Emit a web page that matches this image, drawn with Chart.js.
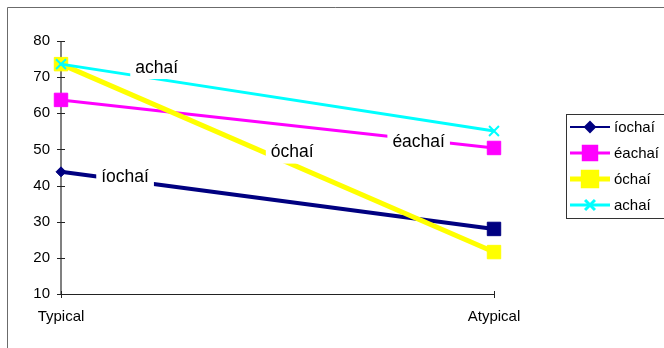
<!DOCTYPE html>
<html>
<head>
<meta charset="utf-8">
<script src="https://cdn.jsdelivr.net/npm/chart.js@4/dist/chart.umd.min.js"></script>
<style>
  html, body { margin: 0; padding: 0; background: #fff; }
  #wrap { position: relative; width: 664px; height: 348px; }
</style>
</head>
<body>
<div id="wrap"><canvas id="c" width="664" height="348"></canvas></div>
<script>
// Categories and series values
const categories = ['Typical', 'Atypical'];
const seriesNames = ['íochaí', 'éachaí', 'óchaí', 'achaí'];
const iochai = [43.8, 28.0];
const eachai = [63.7, 50.4];
const ochai = [73.6, 21.6];
const achai = [73.6, 55.1];
const yTicks = [10, 20, 30, 40, 50, 60, 70, 80];

// In-plot series captions: position along the x range (0..1) and y value
const captionSpots = [
  { text: 'achaí', xf: 0.221, y: 72.8 },
  { text: 'éachaí', xf: 0.826, y: 52.2 },
  { text: 'óchaí', xf: 0.534, y: 49.4 },
  { text: 'íochaí', xf: 0.148, y: 42.5 }
];

const FONT = "'Liberation Sans', Arial, sans-serif";

const datasets = [
  {
    label: seriesNames[0], data: iochai, order: 3,
    borderColor: '#000080', backgroundColor: '#000080', borderWidth: 4,
    pointStyle: ['rectRot', 'rect'], pointRadius: [5, 9.5],
    pointBorderWidth: 1, legendWidth: 2, legendStyle: 'rectRot', legendRadius: 5
  },
  {
    label: seriesNames[1], data: eachai, order: 2,
    borderColor: '#FF00FF', backgroundColor: '#FF00FF', borderWidth: 3,
    pointStyle: 'rect', pointRadius: 9.5,
    pointBorderWidth: 1, legendWidth: 3, legendStyle: 'rect', legendRadius: 9.5
  },
  {
    label: seriesNames[2], data: ochai, order: 1,
    borderColor: '#FFFF00', backgroundColor: '#FFFF00', borderWidth: 5,
    pointStyle: 'rect', pointRadius: 9.5,
    pointBorderWidth: 1, legendWidth: 5, legendStyle: 'rect', legendRadius: 9.5
  },
  {
    label: seriesNames[3], data: achai, order: 0,
    borderColor: '#00FFFF', backgroundColor: '#00FFFF', borderWidth: 3,
    pointStyle: 'crossRot', pointRadius: 7,
    pointBorderWidth: 2, legendWidth: 3, legendStyle: 'crossRot', legendRadius: 7
  }
].map(d => Object.assign({ tension: 0, fill: false, clip: false, pointHoverRadius: d.pointRadius }, d));

// Axes, captions, legend and outer frame
const decor = {
  id: 'decor',
  beforeDatasetsDraw(chart) {
    const ctx = chart.ctx;
    const xs = chart.scales.x, ys = chart.scales.y;
    const L = xs.left, R = xs.right, B = ys.bottom, T = ys.top;
    ctx.save();
    // value axis
    ctx.strokeStyle = '#808080';
    ctx.lineWidth = 2;
    ctx.beginPath(); ctx.moveTo(L, T); ctx.lineTo(L, B); ctx.stroke();
    // tick marks across the value axis
    ctx.strokeStyle = '#222';
    ctx.lineWidth = 1;
    yTicks.forEach(v => {
      const y = Math.round(ys.getPixelForValue(v)) + 0.5;
      ctx.beginPath(); ctx.moveTo(L - 4, y); ctx.lineTo(L + 4, y); ctx.stroke();
    });
    // category axis
    ctx.strokeStyle = '#222';
    ctx.lineWidth = 1;
    ctx.beginPath(); ctx.moveTo(L, B + 0.5); ctx.lineTo(R, B + 0.5); ctx.stroke();
    categories.forEach((c, i) => {
      const x = Math.round(xs.getPixelForValue(i)) + 0.5;
      ctx.beginPath(); ctx.moveTo(x, B - 3); ctx.lineTo(x, B + 4); ctx.stroke();
    });
    ctx.restore();
  },
  afterDatasetsDraw(chart) {
    const ctx = chart.ctx;
    const xs = chart.scales.x, ys = chart.scales.y;
    ctx.save();
    // captions with white backing
    ctx.font = '17.5px ' + FONT;
    ctx.textBaseline = 'middle';
    ctx.textAlign = 'center';
    captionSpots.forEach(s => {
      const x = xs.left + s.xf * (xs.right - xs.left);
      const y = ys.getPixelForValue(s.y);
      const w = ctx.measureText(s.text).width;
      ctx.fillStyle = '#fff';
      ctx.fillRect(x - w / 2 - 5, y - 11, w + 10, 23);
      ctx.fillStyle = '#000';
      ctx.fillText(s.text, x, y + 1);
    });

    // legend box
    const lx = 566, ly = 114, rowH = 26;
    ctx.strokeStyle = '#333';
    ctx.lineWidth = 1;
    ctx.strokeRect(lx + 0.5, ly + 0.5, 120, 104);
    ctx.font = '15px ' + FONT;
    ctx.textAlign = 'left';
    chart.data.datasets.forEach((d, i) => {
      const y = ly + 13 + i * rowH;
      ctx.strokeStyle = d.borderColor;
      ctx.lineWidth = d.legendWidth;
      ctx.beginPath(); ctx.moveTo(lx + 4, y); ctx.lineTo(lx + 44, y); ctx.stroke();
      ctx.fillStyle = d.backgroundColor;
      ctx.strokeStyle = d.borderColor;
      Chart.helpers.drawPoint(ctx, {
        pointStyle: d.legendStyle, radius: d.legendRadius, rotation: 0,
        borderWidth: d.pointBorderWidth
      }, lx + 24, y);
      ctx.fillStyle = '#000';
      ctx.fillText(d.label, lx + 48, y + 1);
    });

    // outer frame
    ctx.strokeStyle = '#6b6b6b';
    ctx.lineWidth = 1;
    ctx.beginPath();
    ctx.moveTo(7.5, 348); ctx.lineTo(7.5, 7.5); ctx.lineTo(664, 7.5);
    ctx.stroke();
    ctx.restore();
  }
};

new Chart(document.getElementById('c'), {
  type: 'line',
  data: { labels: categories, datasets },
  options: {
    responsive: false,
    animation: false,
    devicePixelRatio: 1,
    layout: { padding: { left: 0, right: 170, top: 41, bottom: 0 } },
    plugins: { legend: { display: false }, tooltip: { enabled: false } },
    events: [],
    scales: {
      x: {
        type: 'category',
        offset: false,
        grid: { display: false, drawTicks: false },
        border: { display: false },
        ticks: { color: '#000', font: { size: 15, family: FONT }, padding: 14, maxRotation: 0, autoSkip: false },
        afterFit: s => { s.height = 54; }
      },
      y: {
        min: 10, max: 80,
        afterBuildTicks: s => { s.ticks = yTicks.map(v => ({ value: v })); },
        grid: { display: false, drawTicks: false },
        border: { display: false },
        ticks: { color: '#000', font: { size: 15, family: FONT }, padding: 11 },
        afterFit: s => { s.width = 61; }
      }
    }
  },
  plugins: [decor]
});
</script>
</body>
</html>
